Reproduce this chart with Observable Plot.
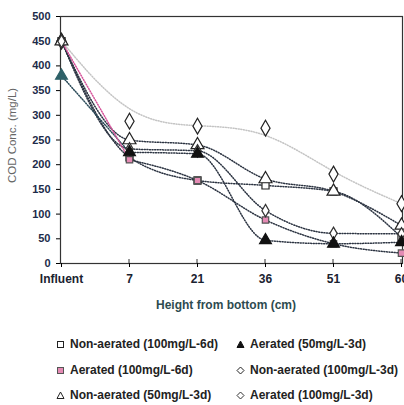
<!DOCTYPE html>
<html>
<head>
<meta charset="utf-8">
<script src="https://cdn.jsdelivr.net/npm/d3@7"></script>
<script src="https://cdn.jsdelivr.net/npm/@observablehq/plot@0.6"></script>
<style>
  html, body { margin: 0; padding: 0; background: #fff; overflow: hidden; }
  body { width: 404px; height: 405px; font-family: Arial, "Liberation Sans", sans-serif; }
  #chart { position: relative; width: 404px; height: 320px; }
  #legend { position: relative; width: 404px; height: 85px; }
  .item { position: absolute; display: flex; align-items: center; font: bold 12px Arial, "Liberation Sans", sans-serif; color: #222; white-space: nowrap; }
  .item svg { margin-right: 4px; }
</style>
</head>
<body>
<div id="chart"></div>
<div id="legend"></div>
<script>
// ---- data ----
const categories = ["Influent", "7", "21", "36", "51", "60"];
const yTicks = [0, 50, 100, 150, 200, 250, 300, 350, 400, 450, 500];
const nonAerated100_6d = [450, 215, 168, 158, 146, 53];
const aerated50_3d     = [380, 225, 222, 47, 40, 43];
const aerated100_6d    = [450, 210, 168, 88, 40, 21];
const nonAerated100_3d = [450, 288, 278, 274, 181, 121];
const nonAerated50_3d  = [450, 250, 240, 171, 146, 77];
const aerated100_3d    = [450, 232, 228, 107, 61, 60];
const seriesNames = [
  "Non-aerated (100mg/L-6d)",
  "Aerated (50mg/L-3d)",
  "Aerated (100mg/L-6d)",
  "Non-aerated (100mg/L-3d)",
  "Non-aerated (50mg/L-3d)",
  "Aerated (100mg/L-3d)"
];
const seriesValues = [nonAerated100_6d, aerated50_3d, aerated100_6d, nonAerated100_3d, nonAerated50_3d, aerated100_3d];

// ---- styles ----
const styles = {
  "Non-aerated (100mg/L-6d)": {symbol: "square", fill: "#fff", stroke: "#222", line: "#2c3442", curve: "monotone-x", r: 4},
  "Aerated (50mg/L-3d)":      {symbol: "triangle", fill: "#111", stroke: "#111", line: "#2c3442", curve: "monotone-x", r: 4.4},
  "Aerated (100mg/L-6d)":     {symbol: "square", fill: "#e58ab4", stroke: "#555", line: "#2c3442", curve: "monotone-x", r: 3.6},
  "Non-aerated (100mg/L-3d)": {symbol: "diamond", fill: "#fff", stroke: "#222", line: "#c4c4c4", curve: "basis", r: 4.8},
  "Non-aerated (50mg/L-3d)":  {symbol: "triangle", fill: "#fff", stroke: "#222", line: "#2c3442", curve: "monotone-x", r: 4.8},
  "Aerated (100mg/L-3d)":     {symbol: "diamond", fill: "#fff", stroke: "#333", line: "#2c3442", curve: "monotone-x", r: 3.8}
};
const pinkLine = "#d6539a";
const tealPoint = "#2e6168";

const rows = [];
seriesNames.forEach((s, k) => {
  seriesValues[k].forEach((v, i) => rows.push({series: s, x: categories[i], y: v}));
});

const lineOrder = [3, 0, 4, 5, 1, 2].map(i => seriesNames[i]);
const dotOrder = [0, 2, 3, 4, 5, 1].map(i => seriesNames[i]);

const marks = [];
for (const s of lineOrder) {
  const st = styles[s];
  const strokeFn = s === "Aerated (100mg/L-6d)"
    ? (d => d.x === "Influent" ? pinkLine : st.line)
    : (s === "Aerated (50mg/L-3d)" ? (d => d.x === "Influent" ? "#2a4a58" : st.line) : (() => st.line));
  marks.push(Plot.line(rows.filter(d => d.series === s), {
    x: "x", y: "y", z: "series", curve: st.curve,
    stroke: strokeFn, strokeWidth: 1.5, strokeDasharray: "1,1.6"
  }));
}
for (const s of dotOrder) {
  const st = styles[s];
  marks.push(Plot.dot(rows.filter(d => d.series === s), {
    x: "x", y: "y", symbol: () => st.symbol, r: st.r,
    fill: d => (s === "Aerated (50mg/L-3d)" && d.x === "Influent") ? tealPoint : st.fill,
    stroke: d => (s === "Aerated (50mg/L-3d)" && d.x === "Influent") ? tealPoint : st.stroke,
    strokeWidth: 1.2
  }));
}

const chart = Plot.plot({
  width: 404,
  height: 320,
  marginLeft: 60,
  marginRight: 2,
  marginTop: 16,
  marginBottom: 57,
  style: {fontFamily: "Arial, 'Liberation Sans', sans-serif", background: "#fff", overflow: "hidden"},
  x: {type: "point", domain: categories, padding: 0},
  y: {domain: [0, 500]},
  symbol: {type: "identity"},
  color: {type: "identity"},
  marks: [
    Plot.frame({stroke: "#333", strokeWidth: 1.2}),
    Plot.axisY({ticks: yTicks, tickSize: 4, tickPadding: 6, fontSize: 11, fontWeight: "bold", fill: "#1c2b4a", label: null}),
    Plot.axisX({tickSize: 4, tickPadding: 7, fontSize: 12, fontWeight: "bold", fill: "#1a2230", label: null}),
    ...marks
  ]
});
document.getElementById("chart").appendChild(chart);

// inner half of x ticks, axis titles
const svg = d3.select(chart);
const xs = chart.scale("x");
const ys = chart.scale("y");
const y0 = ys.apply(0);
svg.append("g").selectAll("line").data(categories.slice(1)).join("line")
  .attr("x1", d => xs.apply(d)).attr("x2", d => xs.apply(d))
  .attr("y1", y0 - 4).attr("y2", y0)
  .attr("stroke", "#333").attr("stroke-width", 1);
svg.append("text")
  .attr("x", 226).attr("y", 309)
  .attr("text-anchor", "middle")
  .attr("font-size", 12).attr("font-weight", "bold")
  .attr("fill", "#2d4b50")
  .text("Height from bottom (cm)");
svg.append("text")
  .attr("transform", `translate(16,${(ys.apply(0) + ys.apply(500)) / 2 - 4}) rotate(-90)`)
  .attr("text-anchor", "middle")
  .attr("font-size", 11.5)
  .attr("fill", "#666")
  .text("COD Conc. (mg/L)");

// legend
const legendLayout = [
  {s: 0, left: 55, top: 337}, {s: 1, left: 235, top: 337},
  {s: 2, left: 55, top: 363}, {s: 3, left: 235, top: 363},
  {s: 4, left: 55, top: 388}, {s: 5, left: 235, top: 388}
];
const legend = document.getElementById("legend");
function markerSvg(st) {
  const sz = 11;
  let shape;
  if (st.symbol === "square") shape = `<rect x="2.5" y="2.5" width="6" height="6" fill="${st.fill}" stroke="${st.stroke}" stroke-width="1"/>`;
  else if (st.symbol === "triangle") shape = `<path d="M5.5,2 L9,8.5 L2,8.5 Z" fill="${st.fill}" stroke="${st.stroke}" stroke-width="1"/>`;
  else shape = `<path d="M5.5,2 L9,5.5 L5.5,9 L2,5.5 Z" fill="${st.fill}" stroke="${st.stroke}" stroke-width="1"/>`;
  return `<svg width="${sz}" height="${sz}">${shape}</svg>`;
}
for (const l of legendLayout) {
  const name = seriesNames[l.s];
  const div = document.createElement("div");
  div.className = "item";
  div.style.left = l.left + "px";
  div.style.top = (l.top - 320) + "px";
  div.innerHTML = markerSvg(styles[name]) + `<span>${name}</span>`;
  legend.appendChild(div);
}
</script>
</body>
</html>
